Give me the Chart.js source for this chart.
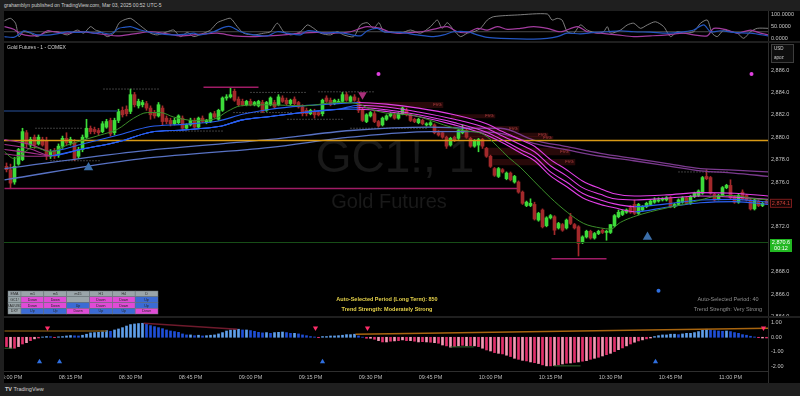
<!DOCTYPE html>
<html lang="en">
<head>
<meta charset="utf-8">
<title>GC1! 1m</title>
<script src="https://cdn.jsdelivr.net/npm/chart.js@4.4.1/dist/chart.umd.min.js"></script>
<style>
  html, body { margin: 0; padding: 0; }
  body { width: 800px; height: 396px; background: #1f1f1f; position: relative; overflow: hidden;
         font-family: 'Liberation Sans', Arial, sans-serif; }
  canvas { position: absolute; left: 4px; background: #000; }
  #osc { top: 11px; }
  #main { top: 43px; }
  #hist { top: 318px; }
  #head { position: absolute; left: 4px; top: 2px; font-size: 5px; color: #cfcfcf; white-space: nowrap; }
  #foot { position: absolute; left: 5px; top: 386px; font-size: 5.5px; color: #d0d0d0; white-space: nowrap; }
  #axisSep { position: absolute; left: 768px; top: 371px; width: 1px; height: 12px; background: #2e2e2e; }
</style>
</head>
<body>
<div id="head">grahamblyn published on TradingView.com, Mar 03, 2025 00:52 UTC-5</div>
<canvas id="osc" width="796" height="30"></canvas>
<canvas id="main" width="796" height="273"></canvas>
<canvas id="hist" width="796" height="65"></canvas>
<div id="axisSep"></div>
<div id="foot"><b>TV</b> TradingView</div>
<script>
const FONT = "'Liberation Sans', Arial, sans-serif";
const X_MIN = -1.625, X_MAX = 189.375;   // minutes after 08:00 PM
const UP = '#3ddc3a', DOWN = '#a3292b';

// ---- candles (1 minute bars, first one at 07:59 PM) ----
const firstBar = -1;
const opens = [
  2877.4, 2877.1, 2876.0, 2877.6, 2878.0, 2880.4, 2879.3, 2880.0, 2879.4, 2879.8, 2879.7,
  2878.3, 2878.8, 2878.4, 2879.2, 2879.9, 2879.5, 2879.5, 2878.3, 2878.9, 2880.0,
  2880.8, 2880.7, 2880.6, 2880.5, 2880.9, 2881.5, 2880.4, 2881.5, 2882.4, 2882.5,
  2882.3, 2883.8, 2882.8, 2882.9, 2883.0, 2882.6, 2882.2, 2881.9, 2882.6, 2881.7,
  2881.5, 2881.2, 2881.3, 2881.7, 2880.8, 2881.1, 2881.5, 2880.9, 2881.7, 2881.3,
  2881.4, 2882.1, 2881.6, 2882.4, 2883.5, 2883.6, 2884.1, 2883.4, 2883.2, 2882.9,
  2883.2, 2882.9, 2882.8, 2883.1, 2882.4, 2882.9, 2883.1, 2882.9, 2883.5, 2883.3,
  2883.0, 2883.4, 2883.1, 2882.7, 2882.4, 2882.1, 2882.3, 2882.2, 2882.1, 2883.5,
  2883.3, 2883.0, 2883.1, 2883.2, 2883.8, 2883.2, 2883.6, 2883.2, 2882.4, 2881.4,
  2881.9, 2882.1, 2881.4, 2881.1, 2881.6, 2881.9, 2882.0, 2881.7, 2882.1, 2882.4,
  2882.0, 2881.6, 2881.3, 2881.5, 2881.1, 2881.1, 2881.1, 2880.4, 2880.4, 2880.0,
  2879.3, 2880.0, 2879.9, 2880.4, 2880.6, 2879.9, 2879.2, 2879.3, 2879.8, 2879.0,
  2878.3, 2877.2, 2876.5, 2877.1, 2876.3, 2876.8, 2876.0, 2876.0, 2875.1, 2873.9,
  2873.9, 2874.0, 2872.6, 2873.5, 2872.1, 2872.8, 2872.9, 2871.9, 2872.2, 2871.9,
  2872.9, 2872.2, 2872.0, 2870.6, 2871.1, 2871.6, 2871.0, 2871.4, 2871.7, 2871.5,
  2871.5, 2872.1, 2872.9, 2873.1, 2873.3, 2873.7, 2874.0, 2873.2, 2873.5, 2873.8,
  2874.0, 2874.2, 2874.3, 2874.4, 2874.4, 2874.6, 2873.8, 2874.0, 2874.2, 2874.6,
  2874.1, 2874.7, 2874.8, 2875.0, 2876.5, 2876.4, 2874.9, 2874.5, 2874.8, 2875.5,
  2875.7, 2874.7, 2874.2, 2875.1, 2874.8, 2874.4, 2873.6, 2874.3, 2873.9, 2874.3
];
const highs = [
  2877.7, 2877.6, 2878.2, 2879.0, 2880.8, 2880.6, 2880.0, 2880.2, 2880.2, 2880.0, 2880.0,
  2878.9, 2879.0, 2879.4, 2880.1, 2880.4, 2880.0, 2879.8, 2879.1, 2880.2, 2881.6,
  2881.0, 2880.9, 2880.8, 2881.4, 2881.6, 2881.7, 2881.7, 2882.5, 2882.7, 2882.8,
  2884.3, 2884.0, 2883.4, 2883.3, 2883.2, 2882.8, 2882.4, 2883.1, 2882.8, 2881.9,
  2881.7, 2881.7, 2882.0, 2881.9, 2881.2, 2881.7, 2881.7, 2881.8, 2881.9, 2881.6,
  2882.2, 2882.3, 2882.5, 2883.6, 2883.8, 2884.4, 2884.3, 2883.6, 2883.4, 2883.3,
  2883.4, 2883.2, 2883.3, 2883.3, 2883.2, 2883.6, 2883.3, 2883.8, 2883.7, 2883.5,
  2883.4, 2883.6, 2883.2, 2882.9, 2882.6, 2882.5, 2882.5, 2882.4, 2883.4, 2883.7,
  2883.5, 2883.4, 2883.4, 2884.0, 2884.0, 2883.7, 2883.8, 2883.5, 2882.6, 2882.1,
  2882.3, 2882.3, 2881.5, 2881.8, 2882.0, 2882.2, 2882.2, 2882.2, 2882.7, 2882.6,
  2882.1, 2881.7, 2881.7, 2881.6, 2881.3, 2881.4, 2881.2, 2880.6, 2880.5, 2880.1,
  2880.0, 2880.1, 2880.7, 2881.1, 2880.7, 2880.0, 2879.8, 2879.9, 2879.9, 2879.1,
  2878.4, 2877.3, 2877.3, 2877.2, 2876.9, 2876.9, 2876.6, 2876.1, 2875.2, 2874.3,
  2874.5, 2874.2, 2873.3, 2873.6, 2872.9, 2873.1, 2873.0, 2872.4, 2872.3, 2872.7,
  2873.2, 2872.3, 2872.1, 2871.2, 2871.7, 2871.7, 2871.5, 2871.7, 2871.8, 2871.7,
  2872.2, 2873.1, 2873.5, 2873.5, 2873.6, 2873.9, 2874.4, 2874.1, 2873.9, 2874.2,
  2874.4, 2874.6, 2874.6, 2874.6, 2874.7, 2874.7, 2874.1, 2874.5, 2874.7, 2874.7,
  2874.8, 2875.1, 2875.3, 2876.5, 2877.1, 2876.5, 2875.0, 2874.9, 2875.6, 2875.8,
  2876.2, 2874.8, 2874.9, 2875.3, 2874.9, 2874.5, 2874.5, 2874.4, 2874.2, 2874.4
];
const lows = [
  2876.9, 2875.4, 2875.8, 2877.5, 2877.9, 2879.1, 2879.1, 2879.0, 2879.3, 2879.2, 2878.0,
  2878.1, 2878.1, 2878.2, 2879.0, 2879.3, 2879.3, 2877.9, 2878.1, 2878.7, 2879.9,
  2880.3, 2880.3, 2880.2, 2880.4, 2880.8, 2880.1, 2880.2, 2881.3, 2881.8, 2881.9,
  2882.1, 2882.7, 2882.6, 2882.7, 2882.4, 2881.6, 2881.7, 2881.8, 2881.1, 2881.2,
  2881.0, 2881.1, 2881.2, 2880.6, 2880.7, 2881.0, 2880.8, 2880.8, 2881.3, 2881.2,
  2881.3, 2881.7, 2881.5, 2882.3, 2883.3, 2883.5, 2883.2, 2882.8, 2882.8, 2882.8,
  2882.8, 2882.8, 2882.7, 2882.2, 2882.3, 2882.8, 2882.6, 2882.8, 2883.1, 2882.9,
  2882.9, 2882.9, 2882.6, 2881.9, 2881.9, 2882.0, 2881.7, 2881.9, 2881.9, 2883.1,
  2882.8, 2882.9, 2883.0, 2883.1, 2883.2, 2883.1, 2883.2, 2882.2, 2881.4, 2881.3,
  2881.8, 2881.3, 2880.9, 2881.0, 2881.5, 2881.8, 2881.6, 2881.6, 2882.0, 2881.9,
  2881.4, 2881.3, 2881.2, 2881.1, 2881.0, 2881.0, 2880.3, 2880.1, 2879.9, 2879.0,
  2879.2, 2879.6, 2879.8, 2880.3, 2879.9, 2879.1, 2879.1, 2878.7, 2879.0, 2878.2,
  2877.3, 2876.5, 2876.4, 2876.8, 2876.2, 2876.1, 2875.9, 2875.0, 2874.0, 2873.8,
  2873.8, 2872.6, 2872.5, 2871.9, 2872.0, 2872.7, 2871.3, 2871.8, 2871.6, 2871.8,
  2872.2, 2871.8, 2869.4, 2870.5, 2871.0, 2870.9, 2870.9, 2871.3, 2871.4, 2870.8,
  2871.4, 2872.0, 2872.8, 2873.0, 2873.2, 2873.2, 2873.1, 2873.1, 2873.4, 2873.7,
  2873.9, 2874.1, 2874.2, 2874.3, 2874.3, 2873.7, 2873.7, 2873.9, 2874.1, 2874.0,
  2874.0, 2874.6, 2874.7, 2874.9, 2876.2, 2874.9, 2874.3, 2874.4, 2874.7, 2875.4,
  2874.5, 2874.1, 2874.1, 2874.4, 2874.3, 2873.5, 2873.5, 2873.8, 2873.8, 2874.0
];
const closes = [
  2877.1, 2875.9, 2877.4, 2878.9, 2880.5, 2879.4, 2879.8, 2879.3, 2880.0, 2879.3, 2878.3,
  2878.7, 2878.3, 2879.2, 2879.9, 2879.5, 2879.8, 2878.1, 2878.9, 2880.0, 2880.8,
  2880.5, 2880.5, 2880.4, 2881.2, 2881.4, 2880.3, 2881.5, 2882.3, 2882.0, 2882.1,
  2883.8, 2882.9, 2883.2, 2883.1, 2882.6, 2882.0, 2881.9, 2882.9, 2881.4, 2881.4,
  2881.2, 2881.5, 2881.9, 2880.8, 2881.1, 2881.5, 2880.9, 2881.7, 2881.4, 2881.5,
  2882.1, 2881.8, 2882.4, 2883.5, 2883.6, 2883.8, 2883.3, 2882.9, 2882.9, 2883.2,
  2882.9, 2883.1, 2883.2, 2882.3, 2883.1, 2883.5, 2882.7, 2883.6, 2883.2, 2883.0,
  2883.3, 2883.0, 2882.7, 2882.1, 2882.1, 2882.4, 2882.0, 2882.0, 2883.3, 2883.2,
  2882.9, 2883.3, 2883.2, 2883.8, 2883.3, 2883.6, 2883.3, 2882.4, 2881.5, 2882.0,
  2882.2, 2881.4, 2881.0, 2881.7, 2881.9, 2882.1, 2881.7, 2882.1, 2882.6, 2882.0,
  2881.5, 2881.4, 2881.6, 2881.2, 2881.2, 2881.3, 2880.4, 2880.2, 2880.0, 2879.2,
  2879.9, 2879.7, 2880.6, 2880.6, 2880.0, 2879.2, 2879.7, 2879.8, 2879.2, 2878.3,
  2877.4, 2876.6, 2877.2, 2876.9, 2876.8, 2876.2, 2876.5, 2875.1, 2874.1, 2874.2,
  2874.1, 2872.7, 2873.2, 2872.0, 2872.8, 2873.0, 2871.7, 2872.3, 2871.7, 2872.6,
  2872.3, 2871.9, 2870.5, 2871.1, 2871.6, 2871.0, 2871.4, 2871.6, 2871.5, 2871.6,
  2872.2, 2873.0, 2873.3, 2873.4, 2873.5, 2873.3, 2873.2, 2874.0, 2873.8, 2874.1,
  2874.3, 2874.4, 2874.4, 2874.5, 2874.6, 2873.8, 2874.0, 2874.4, 2874.6, 2874.1,
  2874.7, 2875.0, 2875.2, 2876.4, 2876.3, 2875.0, 2874.4, 2874.8, 2875.5, 2875.7,
  2874.6, 2874.2, 2874.8, 2874.5, 2874.4, 2873.6, 2874.4, 2873.9, 2874.1, 2874.1
];

// ---- lower pane histogram, one value per bar ----
const histVals = [
  -0.64, -0.75, -0.75, -0.64, -0.46, -0.37, -0.23, -0.11, -0.05, 0.02, 0.05,
  0.04, -0.02, 0.03, 0.05, 0.09, 0.12, 0.10, 0.09, 0.14, 0.21,
  0.30, 0.32, 0.34, 0.43, 0.46, 0.41, 0.50, 0.57, 0.66, 0.77,
  0.87, 0.91, 0.94, 0.96, 0.89, 0.80, 0.73, 0.66, 0.59, 0.50,
  0.43, 0.39, 0.34, 0.23, 0.16, 0.16, 0.11, 0.14, 0.09, 0.11,
  0.14, 0.16, 0.23, 0.32, 0.43, 0.50, 0.55, 0.55, 0.50, 0.50,
  0.46, 0.41, 0.34, 0.30, 0.32, 0.27, 0.32, 0.34, 0.36, 0.32,
  0.27, 0.27, 0.23, 0.16, 0.11, 0.05, 0.02, -0.03, 0.05, 0.05,
  0.09, 0.09, 0.11, 0.14, 0.18, 0.18, 0.21, 0.09, 0.01, -0.07,
  -0.07, -0.14, -0.23, -0.32, -0.32, -0.27, -0.25, -0.23, -0.18, -0.23,
  -0.23, -0.27, -0.32, -0.30, -0.32, -0.34, -0.37, -0.41, -0.53, -0.59,
  -0.68, -0.64, -0.59, -0.55, -0.59, -0.57, -0.59, -0.64, -0.75, -0.87,
  -0.94, -1.05, -1.10, -1.14, -1.23, -1.32, -1.44, -1.51, -1.58, -1.62,
  -1.69, -1.74, -1.80, -1.89, -1.96, -1.96, -1.94, -1.89, -1.83, -1.78,
  -1.76, -1.72, -1.69, -1.64, -1.60, -1.51, -1.44, -1.37, -1.28, -1.19,
  -1.10, -0.98, -0.85, -0.73, -0.59, -0.46, -0.34, -0.25, -0.18, -0.11,
  -0.05, 0.05, 0.11, 0.16, 0.16, 0.21, 0.21, 0.18, 0.23, 0.27,
  0.27, 0.32, 0.39, 0.48, 0.55, 0.50, 0.46, 0.43, 0.41, 0.43,
  0.39, 0.32, 0.27, 0.18, 0.14, 0.07, 0.02, -0.03, -0.05, -0.05
];

// ---- axis ticks ----
const timeTicks = [0, 15, 30, 45, 60, 75, 90, 105, 120, 135, 150, 165, 180];
const timeLabels = ['08:00 PM', '08:15 PM', '08:30 PM', '08:45 PM', '09:00 PM', '09:15 PM', '09:30 PM',
                    '09:45 PM', '10:00 PM', '10:15 PM', '10:30 PM', '10:45 PM', '11:00 PM'];
const priceTicks = [2864, 2866, 2868, 2870, 2872, 2874, 2876, 2878, 2880, 2882, 2884, 2886];
const oscTicks = [0, 50, 100];
const histTicks = [-2, -1, 0, 1];

// ---- moving averages on the price pane (sampled along the curve) ----
const emaT = [-1.5, 0.8, 5.8, 10, 14.2, 18.3, 22.5, 26.7, 30.8, 34.2, 37.5, 40.8, 45.8, 50.8, 54.2, 57.5, 64.2,
  73.3, 81.7, 86.7, 90, 95, 100, 104.2, 108.3, 113.3, 118.3, 121.7, 124.5, 127.5, 130.8, 135, 139.2, 143.3,
  147.5, 150, 152.5, 155.8, 160, 164.2, 168.3, 172.5, 176.7, 180.8, 185, 189.5];
const emaV = [2878.7, 2878.1, 2879.1, 2878.7, 2879.3, 2879.75, 2880.2, 2880.7, 2881.7, 2882.2, 2882.2, 2881.8,
  2881.5, 2881.6, 2882.3, 2882.8, 2882.9, 2882.8, 2883.1, 2883.0, 2882.5, 2882.1, 2882.0, 2881.6, 2881.1,
  2880.6, 2880.25, 2879.2, 2878.2, 2877.3, 2876.1, 2874.6, 2873.3, 2872.3, 2871.9, 2871.8, 2872.4, 2872.9,
  2873.35, 2873.7, 2874.0, 2874.4, 2874.75, 2874.8, 2874.55, 2874.4];

const ribT = [-1.5, 5, 10, 18, 27, 35, 43, 52, 58, 65, 73, 82, 87, 94, 102, 111, 119, 123, 128, 131, 135, 139,
  143, 147.5, 151, 156, 164, 172.5, 181, 189.5];
const rib1 = [2879.8, 2879.35, 2878.75, 2879.4, 2880.2, 2880.95, 2881.15, 2881.45, 2882.05, 2882.5, 2882.8,
  2883.0, 2883.1, 2882.95, 2882.6, 2882.0, 2881.2, 2880.5, 2879.7, 2879.2, 2878.0, 2877.1, 2876.1, 2875.4,
  2874.95, 2874.75, 2874.85, 2875.05, 2875.0, 2874.75];
const rib2 = [2879.35, 2878.95, 2878.35, 2878.95, 2879.6, 2880.45, 2880.65, 2880.95, 2881.55, 2881.85, 2882.2,
  2882.5, 2882.85, 2882.7, 2882.25, 2881.6, 2880.8, 2880.1, 2879.25, 2878.7, 2877.45, 2876.55, 2875.5, 2874.9,
  2874.5, 2874.4, 2874.55, 2874.75, 2874.65, 2874.45];
const rib3 = [2878.9, 2878.6, 2878.35, 2878.95, 2879.6, 2880.45, 2880.65, 2880.95, 2881.55, 2881.85, 2882.2,
  2882.5, 2882.65, 2882.45, 2882.0, 2881.3, 2880.45, 2879.75, 2878.8, 2878.25, 2876.9, 2876.0, 2875.0, 2874.4,
  2874.05, 2873.8, 2874.05, 2874.4, 2874.45, 2874.2];
const rib4 = [2878.5, 2878.3, 2878.35, 2878.95, 2879.6, 2880.45, 2880.65, 2880.95, 2881.55, 2881.85, 2882.2,
  2882.5, 2882.5, 2882.3, 2881.85, 2881.1, 2880.2, 2879.5, 2878.5, 2877.9, 2876.55, 2875.6, 2874.6, 2874.0,
  2873.7, 2873.35, 2873.75, 2874.15, 2874.25, 2874.0];

const longT = [-1.5, 30.8, 65, 85, 105, 115, 122.5, 130.8, 139.2, 147.5, 155.8, 164.2, 172.5, 180.8, 189.5];
const longA = [2877.2, 2878.7, 2879.8, 2880.6, 2880.9, 2880.8, 2880.8, 2879.75, 2879.15, 2878.56, 2878.1,
  2877.65, 2877.2, 2877.07, 2876.9];
const longB = [2876.2, 2878.0, 2879.1, 2880.0, 2880.5, 2880.5, 2880.35, 2879.45, 2878.86, 2878.3, 2877.9,
  2877.45, 2877.0, 2876.8, 2876.5];

// ---- horizontal levels ----
const orangeLevel = 2879.7;
const markPrice = 2870.6;
const lvlStart = [-1.5, 48.25, 135.25];
const lvlEnd = [126.75, 62, 149];
const lvlPrice = [2875.43, 2884.45, 2869.15];
const navyLevel = 2882.34, navyEnd = 26.75;
const dotStart = [6.25, 10, 23.25, 39.25, 55.75, 60, 69.25, 77, 85, 167];
const dotEnd = [18, 22.5, 37, 53, 70.5, 74.25, 83.25, 91.25, 104.25, 179.25];
const dotLevel = [2880.8, 2877.9, 2884.3, 2880.55, 2882.2, 2884.0, 2881.6, 2884.05, 2880.8, 2876.9];

// ---- fair value gap boxes ----
const boxStart = [86.75, 110, 105.75, 107.5, 112.5, 118.25, 120.5];
const boxEnd = [108.25, 121.25, 127.25, 134.5, 135.75, 140, 141.25];
const boxTop = [2883.15, 2882.05, 2881.0, 2880.4, 2880.1, 2879.05, 2878.05];
const boxBot = [2882.6, 2881.7, 2880.45, 2880.05, 2879.85, 2878.4, 2877.5];

// ---- signal markers ----
const upSigT = [19.5, 159.25], upSigV = [2877.3, 2871.1];
const dnSigT = [88], dnSigV = [2883.8];
const pinkDotT = [92, 185.25], pinkDotV = [2885.65, 2885.65];
const blueDotT = [162], blueDotV = [2866.3];
const histDnT = [9.25, 76.25, 89.25, 188.25];
const histUpT = [7.25, 12.25, 78, 161.25];

// ---- top oscillator ----
const grayT = [-1.5, 0, 1.25, 2.1, 3.3, 5, 6.7, 8.3, 10, 11.7, 14.2, 16.7, 18.3, 20, 21.25, 22.5, 24.2, 25.8,
  27.1, 28.3, 30, 31.7, 33.3, 35, 36.7, 39.2, 40.8, 42.5, 44.2, 45.8, 48.3, 50, 51.7, 53.3, 55, 56.7, 58.3,
  60.8, 63.3, 65, 66.7, 68.3, 70, 72.5, 74.2, 75.8, 77.5, 80, 81.7, 83.3, 85.8, 87.5, 89.2, 90.8, 92.1, 93.3,
  95, 97.5, 100, 102.5, 105, 106.7, 107.9, 109.2, 110.8, 112.5, 114.2, 115.8, 117.5, 119.2, 120.8, 126.7,
  134.2, 135.4, 136.7, 137.9, 139.2, 140.8, 142.5, 144.2, 146.7, 148.3, 149.2, 150, 152.5, 154.2, 155.8,
  157.5, 159.2, 161.25, 163.3, 165, 166.7, 168.3, 170.8, 172.5, 174.2, 175.4, 176.7, 178.3, 180, 181.7,
  183.3, 185, 186.7, 189.5];
const grayV = [72, 82, 62, 7, 27, 21, 7, 21, 27, 27, 14, 34, 21, 48, 34, 27, 7, 21, 62, 75, 82, 62, 41, 21, 14,
  27, 34, 7, 24, 7, 21, 34, 64, 75, 82, 48, 21, 14, 21, 27, 62, 27, 14, 27, 55, 41, 21, 14, 27, 14, 7, 55, 64,
  41, 64, 27, 27, 21, 34, 21, 48, 75, 41, 64, 34, 7, 21, 27, 41, 75, 89, 96, 100, 75, 82, 75, 27, 21, 55, 34,
  21, 27, 48, 21, 34, 55, 62, 41, 55, 68, 48, 7, 27, 21, 27, 62, 75, 21, 7, 34, 27, 21, 0, 27, 41, 41];
const blueT = [-1.5, 0.8, 2.5, 3.3, 5, 6.7, 10, 12.5, 14.2, 16.7, 19.2, 20.8, 22.5, 25, 27.1, 28.3, 30, 32.5,
  35, 37.5, 40.8, 44.2, 45.8, 47.5, 50.8, 53.3, 55, 57.5, 60.8, 64.2, 66.7, 69.2, 72.5, 74.2, 76.7, 78.3, 80.8,
  83.3, 87.5, 89.2, 91.7, 93.3, 97.5, 101.7, 105.8, 108.3, 110.8, 114.2, 116.7, 119.2, 122.5, 130.8, 134.2,
  136.7, 139.2, 142.5, 145.8, 149.2, 152.5, 155.8, 160, 164.2, 168.3, 170.8, 173.3, 175, 177.5, 180.8, 185,
  189.5];
const blueV = [7, 4, 21, 31, 24, 14, 14, 21, 27, 24, 27, 21, 24, 18, 41, 45, 48, 34, 24, 18, 14, 17, 21, 14, 27,
  45, 48, 27, 14, 10, 27, 21, 14, 31, 27, 21, 24, 21, 10, 31, 41, 27, 24, 14, 7, 14, 27, 27, 14, 4, 0, -3, 0, 7,
  21, 18, 24, 27, 31, 27, 25, 21, 27, 34, 55, 27, 31, 24, 21, 10];
const pinkT = [-1.5, 0.8, 2.5, 5, 7.5, 9.2, 10.8, 14.2, 17.5, 20.8, 24.2, 26.7, 30.8, 35, 39.2, 42.5, 47.5,
  51.7, 55.8, 60, 64.2, 68.3, 72.5, 76.7, 80.8, 85, 87.5, 89.2, 92.5, 95, 97.5, 100.8, 104.2, 106.7, 109.2,
  111.7, 114.2, 116.7, 119.2, 121.7, 124.2, 127.5, 130.8, 134.2, 137.5, 141.7, 144.2, 147.5, 151.7, 155.8,
  160, 164.2, 168.3, 170.8, 174.2, 175.8, 179.2, 181.7, 185, 187.5, 189.5];
const pinkV = [48, 37, 18, 10, 14, 31, 27, 21, 27, 21, 14, 10, 18, 27, 18, 10, 17, 21, 10, 7, 10, 14, 21, 24,
  21, 27, 41, 48, 41, 24, 21, 24, 31, 41, 48, 27, 24, 41, 34, 48, 37, 41, 48, 41, 27, 48, 27, 21, 14, 7, 10, 14,
  21, 14, 10, 41, 34, 21, 34, 21, 14];
const oscLevel = 27;

// ---- trend table ----
const tblCols = ['m1', 'm5', 'm15', 'H1', 'H4', 'D'];
const tblRows = ['GC1!', 'XAUUSD', 'DXY'];
const tblCells = [
  ['Down', 'Down', '', 'Down', 'Down', 'Up'],
  ['Down', 'Down', 'Up', 'Down', 'Down', 'Up'],
  ['Up', 'Up', 'Down', 'Up', 'Up', 'Down']
];

// ---------- helpers ----------
const pts = (t, v) => t.map((x, i) => ({ x, y: v[i] }));
const seg2 = (x0, x1, y0, y1) => [{ x: x0, y: y0 }, { x: x1, y: y1 === undefined ? y0 : y1 }];
function line(data, color, width, extra) {
  return Object.assign({ type: 'line', data, borderColor: color, borderWidth: width,
    pointRadius: 0, fill: false, tension: 0 }, extra || {});
}
function marks(t, v, color, radius, rotation) {
  return { type: 'line', data: pts(t, v), showLine: false, pointStyle: 'triangle', pointRadius: radius,
    pointRotation: rotation || 0, pointBackgroundColor: color, pointBorderWidth: 0, order: 1 };
}
function dots(t, v, color) {
  return { type: 'line', data: pts(t, v), showLine: false, pointRadius: 2, pointBackgroundColor: color,
    pointBorderWidth: 0, order: 1 };
}
function xAxis(show) {
  return {
    type: 'linear', min: X_MIN, max: X_MAX, offset: false, display: show,
    grid: { display: false, drawTicks: false },
    border: { display: show, color: '#2e2e2e' },
    afterBuildTicks: ax => { ax.ticks = timeTicks.map(v => ({ value: v })); },
    afterFit: ax => { if (show) ax.height = 12; ax.paddingLeft = 0; ax.paddingRight = 0; },
    ticks: { autoSkip: false, maxRotation: 0, padding: 3, color: '#bdbdbd',
      font: { size: 5.5, family: FONT }, callback: (v, i) => timeLabels[i] }
  };
}
function yAxis(min, max, ticks, fmt) {
  return {
    type: 'linear', position: 'right', min, max,
    grid: { display: false, drawTicks: false },
    border: { display: true, color: '#2e2e2e' },
    afterBuildTicks: ax => { ax.ticks = ticks.map(v => ({ value: v })); },
    afterFit: ax => { ax.width = 32; ax.paddingTop = 0; ax.paddingBottom = 0; },
    ticks: { padding: 3, color: '#c6c6c6', font: { size: 5.5, family: FONT }, callback: fmt }
  };
}
function opts(y, showX) {
  return {
    responsive: false, animation: false, events: [], devicePixelRatio: 1,
    layout: { padding: 0, autoPadding: false },
    plugins: { legend: { display: false }, tooltip: { enabled: false } },
    scales: { x: xAxis(showX), y }
  };
}
const fmtPrice = v => v.toLocaleString('en-US', { minimumFractionDigits: 1, maximumFractionDigits: 1 });

// ---------- top oscillator ----------
new Chart(document.getElementById('osc'), {
  type: 'line',
  data: { datasets: [
    line(pts(blueT, blueV), '#2356c2', 1.2, { tension: 0.3, order: 2 }),
    line(pts(pinkT, pinkV), '#a33c9f', 1.2, { tension: 0.3, order: 3 }),
    line(pts(grayT, grayV), '#8c8c8c', 0.9, { tension: 0.25, order: 4 }),
    line(seg2(X_MIN, X_MAX, oscLevel), '#4a4a4a', 1, { order: 5 })
  ] },
  options: opts(yAxis(-11.1, 112.3, oscTicks, v => v.toFixed(4)), false)
});

// ---------- price pane ----------
const barX = opens.map((_, i) => firstBar + i);
const candleColor = opens.map((o, i) => (closes[i] >= o ? UP : DOWN));

const ribColor = keepMagenta => ctx => {
  const x = ctx.p0.parsed.x;
  if (x < 8) return '#a3308c';
  if (x < 87) return '#2a5ff0';
  if (!keepMagenta && x >= 153) return '#2a5ff0';
  return '#e23fe6';
};
const longColor = ctx => (ctx.p0.parsed.x < 107 ? '#5872c4' : '#7b3a8e');

const mainSets = [];
boxStart.forEach((s, i) => mainSets.push(line(seg2(s, boxEnd[i], boxTop[i]), 'rgba(0,0,0,0)', 0,
  { fill: { value: boxBot[i] }, backgroundColor: 'rgba(125,28,28,0.32)', order: 12 })));
mainSets.push({ type: 'bar', data: barX.map((x, i) => ({ x, y: [lows[i], highs[i]] })),
  backgroundColor: candleColor, barThickness: 1, grouped: false, order: 11 });
mainSets.push({ type: 'bar', data: barX.map((x, i) => ({ x, y: [opens[i], closes[i]] })),
  backgroundColor: candleColor, barThickness: 3, minBarLength: 1, grouped: false, order: 10 });
dotStart.forEach((s, i) => mainSets.push(line(seg2(s, dotEnd[i], dotLevel[i]), '#7c7c7c', 1,
  { borderDash: [1, 2], order: 9 })));
mainSets.push(line(seg2(X_MIN, X_MAX, markPrice), '#174d17', 1, { order: 8 }));
mainSets.push(line(seg2(X_MIN, navyEnd, navyLevel), '#14294f', 2, { order: 8 }));
lvlStart.forEach((s, i) => mainSets.push(line(seg2(s, lvlEnd[i], lvlPrice[i]), '#a01c66', 1.5, { order: 8 })));
mainSets.push(line(pts(longT, longA), '#5872c4', 1.3, { cubicInterpolationMode: 'monotone', segment: { borderColor: longColor }, order: 7 }));
mainSets.push(line(pts(longT, longB), '#5872c4', 1.3, { cubicInterpolationMode: 'monotone', segment: { borderColor: longColor }, order: 7 }));
mainSets.push(line(seg2(X_MIN, X_MAX, orangeLevel), '#d99a16', 1.5, { order: 6 }));
[rib1, rib2, rib3, rib4].forEach((r, k) => mainSets.push(line(pts(ribT, r), '#2a5ff0', 1.1,
  { cubicInterpolationMode: 'monotone', segment: { borderColor: ribColor(k < 2) }, order: 5 })));
mainSets.push(line(pts(emaT, emaV), '#3c8f2a', 1, { cubicInterpolationMode: 'monotone', order: 4 }));
mainSets.push(marks(upSigT, upSigV, '#3b6ea8', 5.5, 0));
mainSets.push(marks(dnSigT, dnSigV, '#a8307a', 5, 180));
mainSets.push(dots(pinkDotT, pinkDotV, '#e040e0'));
mainSets.push(dots(blueDotT, blueDotV, '#2f6fe0'));

function tag(ctx, y, h, fill, stroke) {
  ctx.fillStyle = fill;
  ctx.fillRect(766, y, 22, h);
  if (stroke) { ctx.strokeStyle = stroke; ctx.lineWidth = 1; ctx.strokeRect(766.5, y + 0.5, 21, h - 1); }
}

const mainDecor = {
  id: 'mainDecor',
  beforeDatasetsDraw(chart) {
    const ctx = chart.ctx;
    ctx.save();
    ctx.textAlign = 'center';
    ctx.textBaseline = 'middle';
    ctx.fillStyle = '#191919';
    ctx.font = `46px ${FONT}`;
    ctx.fillText('GC1!, 1', 391, 116);
    ctx.font = `20px ${FONT}`;
    ctx.fillText('Gold Futures', 385, 159);
    ctx.restore();
  },
  afterDraw(chart) {
    const { ctx, scales: { x, y } } = chart;
    ctx.save();
    ctx.textBaseline = 'middle';

    ctx.textAlign = 'left';
    ctx.fillStyle = '#d6d6d6';
    ctx.font = `5px ${FONT}`;
    ctx.fillText('Gold Futures - 1 - COMEX', 3, 5);

    // gap labels
    ctx.textAlign = 'right';
    ctx.fillStyle = '#c04646';
    ctx.font = `4px ${FONT}`;
    boxStart.forEach((s, i) => {
      ctx.fillText('FVG', x.getPixelForValue(boxEnd[i]) - 2, y.getPixelForValue((boxTop[i] + boxBot[i]) / 2));
    });

    // auto period notes
    ctx.textAlign = 'center';
    ctx.font = `bold 5.5px ${FONT}`;
    ctx.fillStyle = '#e6d24a';
    ctx.fillText('Auto-Selected Period (Long Term): 850', 383, 256);
    ctx.fillText('Trend Strength: Moderately Strong', 383, 266);
    ctx.font = `5.5px ${FONT}`;
    ctx.fillStyle = '#8e8e8e';
    ctx.fillText('Auto-Selected Period: 40', 724, 256);
    ctx.fillText('Trend Strength: Very Strong', 724, 266);

    // trend table
    const tx = 4, ty = 248, lw = 13, cw = 22.83, rh = 5.75;
    ctx.font = `3.6px ${FONT}`;
    const cell = (cx, cy, w, fill, text) => {
      ctx.fillStyle = fill;
      ctx.fillRect(cx, cy, w, rh);
      ctx.strokeStyle = '#6f7a7e';
      ctx.lineWidth = 0.5;
      ctx.strokeRect(cx, cy, w, rh);
      ctx.fillStyle = '#262626';
      ctx.fillText(text, cx + w / 2, cy + rh / 2 + 0.3);
    };
    cell(tx, ty, lw, '#9aa5a9', 'EMA');
    tblCols.forEach((c, j) => cell(tx + lw + j * cw, ty, cw, '#9aa5a9', c));
    tblRows.forEach((r, i) => {
      const cy = ty + (i + 1) * rh;
      cell(tx, cy, lw, '#9aa5a9', r);
      tblCells[i].forEach((v, j) => {
        const fill = v === 'Up' ? '#3b6bd4' : v === 'Down' ? '#e04bd6' : '#9aa5a9';
        cell(tx + lw + j * cw, cy, cw, fill, v);
      });
    });

    // axis tags
    ctx.font = `5.5px ${FONT}`;
    const last = closes[closes.length - 1];
    const yl = y.getPixelForValue(last);
    tag(ctx, yl - 4.5, 9, '#120404', '#7a1c1c');
    ctx.fillStyle = '#cc4038';
    ctx.fillText(fmtPrice(last), 777, yl);
    const ym = y.getPixelForValue(markPrice);
    tag(ctx, ym - 3.5, 13, '#22b822');
    ctx.fillStyle = '#ffffff';
    ctx.fillText(fmtPrice(markPrice), 777, ym);
    ctx.fillText('00:12', 777, ym + 6);

    // currency box
    ctx.fillStyle = '#0e0e0e';
    ctx.fillRect(767, 1, 23, 19);
    ctx.strokeStyle = '#3d3d3d';
    ctx.lineWidth = 1;
    ctx.strokeRect(767.5, 1.5, 22, 18);
    ctx.textAlign = 'left';
    ctx.fillStyle = '#cfcfcf';
    ctx.font = `4.5px ${FONT}`;
    ctx.fillText('USD', 770, 6);
    ctx.fillText('apoz', 770, 15);
    ctx.restore();
  }
};

new Chart(document.getElementById('main'), {
  type: 'line',
  data: { datasets: mainSets },
  options: opts(yAxis(2864.04, 2888.41, priceTicks, fmtPrice), false),
  plugins: [mainDecor]
});

// ---------- lower histogram pane ----------
// positive: light when rising, dark when falling; negative bars are striped pink
const histColors = histVals.map((v, i) => {
  const prev = i > 0 ? histVals[i - 1] : v;
  if (v >= 0) return v >= prev ? '#5f9ee8' : '#1f4fd6';
  return i % 2 ? '#f29ab5' : '#e3306c';
});

new Chart(document.getElementById('hist'), {
  type: 'line',
  data: { datasets: [
    { type: 'bar', data: histVals.map((v, i) => ({ x: firstBar + i, y: v })), backgroundColor: histColors,
      barThickness: 2, grouped: false, order: 6 },
    line(seg2(-1.5, 24, 0.43), '#6b4a12', 1.5, { order: 3 }),
    line(seg2(33.3, 56.7, 0.96, 0.55), '#6e1a2c', 1.5, { order: 3 }),
    line(seg2(86.25, 189.5, 0.21, 0.62), '#a8650f', 1.5, { order: 3 }),
    line(seg2(-1.5, 0.5, -0.75), '#2f6b2f', 1, { order: 3 }),
    line(seg2(110, 115.8, -0.66), '#2f6b2f', 1, { order: 3 }),
    line(seg2(135.8, 142.5, -1.96), '#2f6b2f', 1, { order: 3 }),
    marks(histDnT, histDnT.map(() => 0.64), '#ff2e6a', 3, 180),
    marks(histUpT, histUpT.map(() => -1.67), '#2f6fe0', 3, 0)
  ] },
  options: opts(yAxis(-2.31, 1.32, histTicks, v => v.toFixed(2)), true)
});
</script>
</body>
</html>
